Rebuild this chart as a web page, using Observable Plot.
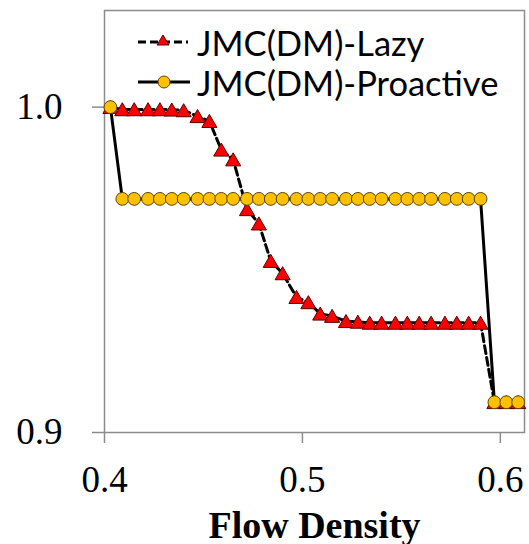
<!DOCTYPE html>
<html><head><meta charset="utf-8">
<script src="https://cdn.jsdelivr.net/npm/d3@7"></script>
<script src="https://cdn.jsdelivr.net/npm/@observablehq/plot@0.6"></script>
<style>
html,body{margin:0;padding:0;background:#fff;}
#wrap{position:relative;width:529px;height:544px;overflow:hidden;}
.lg{position:absolute;display:flex;align-items:center;font-family:Lato, "Open Sans", sans-serif;font-size:34.5px;color:#000;white-space:nowrap;}
.lg svg{display:block;}
</style></head><body><div id="wrap"></div>
<script>
const density = [0.403, 0.409, 0.415, 0.422, 0.428, 0.434, 0.440, 0.447, 0.453, 0.459, 0.465, 0.472, 0.478, 0.484, 0.490, 0.497, 0.503, 0.509, 0.515, 0.522, 0.528, 0.534, 0.540, 0.547, 0.553, 0.559, 0.565, 0.572, 0.578, 0.584, 0.590, 0.597, 0.603, 0.609];
const lazy = [1.0, 0.9993, 0.9993, 0.9993, 0.9993, 0.9992, 0.999, 0.9972, 0.9957, 0.9869, 0.9839, 0.9686, 0.9642, 0.9527, 0.9489, 0.9416, 0.9400, 0.9365, 0.9358, 0.9342, 0.9340, 0.9337, 0.9337, 0.9337, 0.9337, 0.9337, 0.9337, 0.9337, 0.9337, 0.9337, 0.9337, 0.9093, 0.9093, 0.9093];
const proactive = [1.0, 0.9718, 0.9718, 0.9718, 0.9718, 0.9718, 0.9718, 0.9718, 0.9718, 0.9718, 0.9718, 0.9718, 0.9718, 0.9718, 0.9718, 0.9718, 0.9718, 0.9718, 0.9718, 0.9718, 0.9718, 0.9718, 0.9718, 0.9718, 0.9718, 0.9718, 0.9718, 0.9718, 0.9718, 0.9718, 0.9718, 0.9093, 0.9093, 0.9093];
const seriesNames = ["JMC(DM)-Lazy", "JMC(DM)-Proactive"];
const xTicks = [0.4, 0.5, 0.6];
const yTicks = [0.9, 1.0];
const xLabel = "Flow Density";

const rows = density.map((x, i) => ({x, lazy: lazy[i], proactive: proactive[i]}));
const serif = "'Liberation Serif', 'Times New Roman', serif";
const axisGray = "#8c8c8c";

const chart = Plot.plot({
  width: 529, height: 544,
  marginLeft: 104, marginRight: 5, marginTop: 10, marginBottom: 112,
  style: {fontFamily: serif, color: "#000", background: "#fff"},
  x: {domain: [0.4, 0.6122]},
  y: {domain: [0.9, 1.0297]},
  marks: [
    Plot.frame({stroke: axisGray, strokeWidth: 1.5}),
    Plot.axisX({ticks: xTicks, tickFormat: d3.format(".1f"), tickSize: 11, tickPadding: 22, fontSize: 37, stroke: axisGray, strokeWidth: 1.5, label: null}),
    Plot.axisY({ticks: yTicks, tickFormat: d3.format(".1f"), tickSize: 12, tickPadding: 30, fontSize: 37, stroke: axisGray, strokeWidth: 1.5, label: null}),
    Plot.text([xLabel], {frameAnchor: "bottom", dy: 105, fontSize: 38, fontWeight: "bold", fontFamily: serif}),
    Plot.line(rows, {x: "x", y: "lazy", stroke: "#000", strokeWidth: 3, strokeDasharray: "8,4"}),
    Plot.dot(rows, {x: "x", y: "lazy", symbol: "triangle", r: 5.6, fill: "#ff0000", stroke: "#5a0000", strokeWidth: 1, dy: 2}),
    Plot.line(rows, {x: "x", y: "proactive", stroke: "#000", strokeWidth: 3}),
    Plot.dot(rows, {x: "x", y: "proactive", symbol: "circle", r: 6.4, fill: "#ffc000", stroke: "#5a4300", strokeWidth: 1})
  ]
});
const wrap = document.getElementById("wrap");
wrap.appendChild(chart);

// legend overlay inside the plot area
const lg1 = document.createElement("div");
lg1.className = "lg";
lg1.style.left = "134px"; lg1.style.top = "22px"; lg1.style.height = "40px";
lg1.innerHTML = `<svg width="58" height="24"><line x1="4" y1="12" x2="54" y2="12" stroke="#000" stroke-width="3" stroke-dasharray="8,4"/><path d="M29,5 L35,15 L23,15 Z" fill="#ff0000" stroke="#5a0000" stroke-width="1"/></svg><span style="margin-left:5px">${seriesNames[0]}</span>`;
wrap.appendChild(lg1);
const lg2 = document.createElement("div");
lg2.className = "lg";
lg2.style.left = "134px"; lg2.style.top = "62px"; lg2.style.height = "40px";
lg2.innerHTML = `<svg width="58" height="24"><line x1="4" y1="12" x2="56" y2="12" stroke="#000" stroke-width="3"/><circle cx="30" cy="12" r="6" fill="#ffc000" stroke="#5a4300" stroke-width="1"/></svg><span style="margin-left:5px">${seriesNames[1]}</span>`;
wrap.appendChild(lg2);
</script>
</body></html>
